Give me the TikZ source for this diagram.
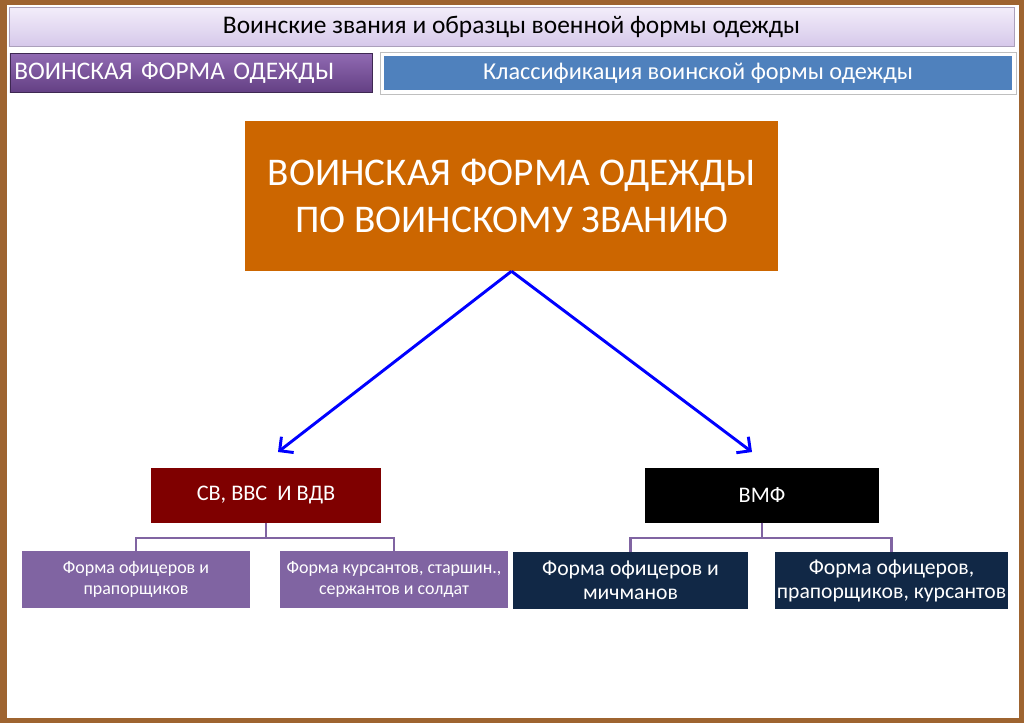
\documentclass[tikz,border=0pt]{standalone}
\usepackage{fontspec}
\setmainfont{Carlito}
\usepackage{tikz}
\usetikzlibrary{arrows.meta}
\definecolor{frame}{RGB}{158,100,48}
\definecolor{lavtop}{RGB}{243,238,250}
\definecolor{lavbot}{RGB}{214,200,234}
\definecolor{main}{RGB}{204,102,0}
\definecolor{second}{RGB}{127,0,0}
\definecolor{third}{RGB}{128,100,162}
\definecolor{deep}{RGB}{17,40,70}
\definecolor{header}{RGB}{79,129,189}
\definecolor{violet}{RGB}{125,80,165}
\tikzset{
  box/.style={rectangle, inner sep=0pt, text=white, align=center},
  branch/.style={box, minimum width=6.9cm, minimum height=1.65cm, font=\fontsize{19}{22}\selectfont},
  leaf/.style={box, fill=third, minimum width=6.84cm, minimum height=1.71cm, font=\fontsize{15.3}{17.5}\selectfont},
  deepleaf/.style={box, fill=deep, minimum width=7.02cm, minimum height=1.71cm, font=\fontsize{18.5}{20.5}\selectfont},
  link/.style={third, line width=2pt},
  arrow/.style={blue, line width=2.5pt, -{Straight Barb[length=3mm, width=6mm]}}
}

\begin{document}
\begin{tikzpicture}[x=0.03cm, y=-0.03cm]
  % фон и рамка
  \fill[frame] (0,0) rectangle (1024,723);
  \fill[white] (7,5) rectangle (1019,718);
  % заголовок
  \node[box, text=black, top color=lavtop, bottom color=lavbot, draw=lavbot!80!black,
    minimum width=30.15cm, minimum height=1.17cm, font=\fontsize{21.7}{24}\selectfont]
    (title) at (511.5,26.5) {Воинские звания и образцы военной формы одежды};
  \node[box, top color=violet!85!white, bottom color=violet!80!black, draw=violet!50!black,
    minimum width=10.86cm, minimum height=1.17cm, text width=10.6cm, align=left,
    font=\fontsize{21.6}{25}\selectfont] (section) at (191,72.5) {ВОИНСКАЯ ФОРМА ОДЕЖДЫ};
  \node[box, fill=white, draw=black!25, minimum width=19.08cm, minimum height=1.26cm]
    (clsframe) at (698,73) {};
  \node[box, fill=header, minimum width=18.84cm, minimum height=1.02cm,
    font=\fontsize{20.7}{24}\selectfont] (cls) at (clsframe) {Классификация воинской формы одежды};
  % главный блок
  \node[box, fill=main, minimum width=15.99cm, minimum height=4.5cm,
    font=\fontsize{33.5}{40}\selectfont] (rank) at (511.5,196)
    {ВОИНСКАЯ ФОРМА ОДЕЖДЫ\\ПО ВОИНСКОМУ ЗВАНИЮ};
  % ветви
  \node[branch, fill=second] (army) at (266,495.5) {СВ, ВВС\ \ И ВДВ};
  \node[branch, fill=black, minimum width=7.02cm] (fleet) at (762,495) {ВМФ};
  \node[leaf] (off) at (136,579.5) {Форма офицеров и\\прапорщиков};
  \node[leaf] (cad) at (394,579.5) {Форма курсантов, старшин.,\\сержантов и солдат};
  \node[deepleaf] (mid) at (630.5,580.5) {Форма офицеров и\\мичманов};
  \node[deepleaf, minimum width=6.99cm] (ens) at (891.5,580.5) {Форма офицеров,\\прапорщиков, курсантов};
  % стрелки
  \coordinate (ltip) at (278,452);
  \coordinate (rtip) at (752,452);
  \draw[arrow] (rank.south) -- (ltip);
  \draw[arrow] (rank.south) -- (rtip);
  % связи
  \draw[link] (army.south) -- ++(0,15) -| (off.north);
  \draw[link] (army.south) -- ++(0,15) -| (cad.north);
  \draw[link] (fleet.south) -- ++(0,15) -| (mid.north);
  \draw[link] (fleet.south) -- ++(0,15) -| (ens.north);
\end{tikzpicture}
\end{document}
